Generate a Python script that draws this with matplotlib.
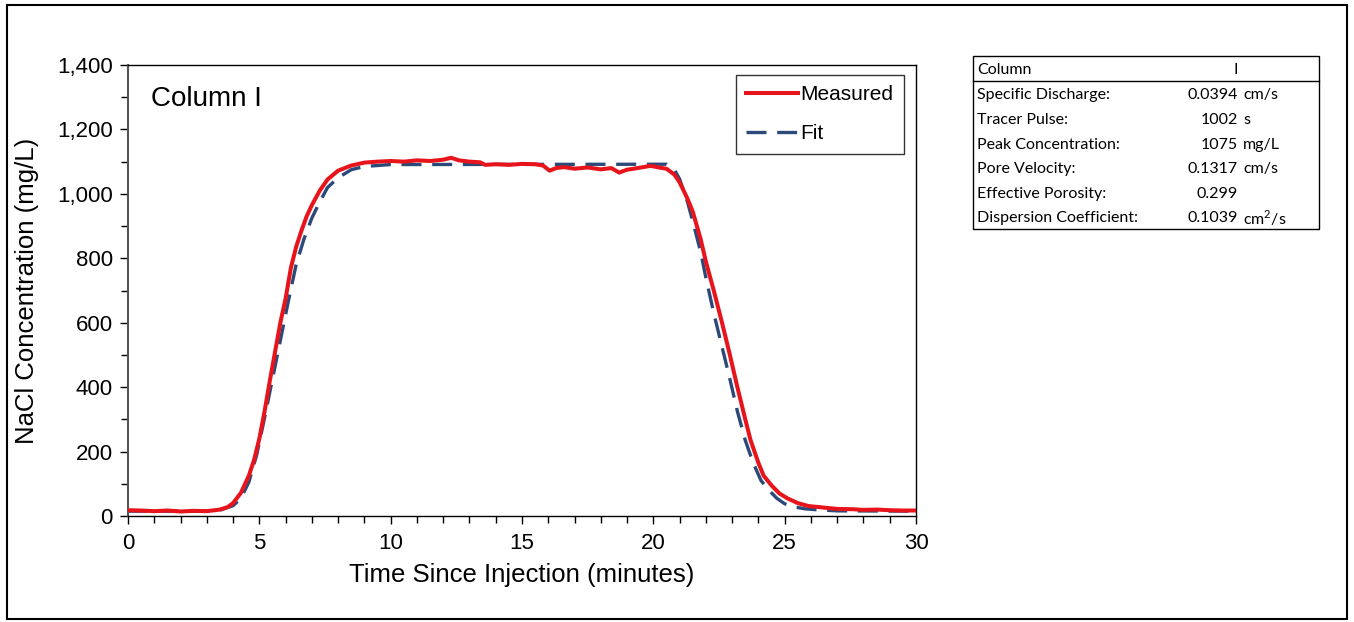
import matplotlib
matplotlib.use("Agg")
import matplotlib.pyplot as plt
from matplotlib.ticker import MultipleLocator, FuncFormatter
from matplotlib.patches import Rectangle
from matplotlib.lines import Line2D

# ---------------- data ----------------
meas_t = [0, 0.5, 1.0, 1.5, 2.0, 2.5, 3.0, 3.5, 3.8, 4.0, 4.3, 4.6, 4.8, 5.0, 5.2, 5.4,
          5.6, 5.8, 6.0, 6.2, 6.4, 6.6, 6.8, 7.0, 7.3, 7.6, 8.0, 8.5, 9.0, 9.5, 10.0,
          10.5, 11.0, 11.5, 12.0, 12.3, 12.6, 13.0, 13.4, 13.6, 14.0, 14.5, 15.0, 15.5,
          15.8, 16.05, 16.3, 16.6, 17.0, 17.5, 18.0, 18.4, 18.7, 19.0, 19.4, 19.9, 20.2,
          20.5, 20.8, 21.0, 21.3, 21.5, 21.8, 22.0, 22.3, 22.6, 22.9, 23.2, 23.5, 23.7,
          24.0, 24.2, 24.5, 24.8, 25.1, 25.5, 25.9, 26.5, 27.0, 27.6, 28.0, 28.5, 29.0,
          29.5, 30.0]
meas_v = [18, 17, 15, 17, 14, 16, 15, 20, 28, 40, 72, 125, 174, 240, 325, 420,
          510, 600, 675, 770, 835, 885, 930, 965, 1010, 1045, 1072, 1088, 1097, 1100, 1102,
          1100, 1104, 1102, 1106, 1112, 1104, 1100, 1098, 1090, 1092, 1090, 1093, 1092,
          1088, 1072, 1080, 1083, 1078, 1082, 1076, 1080, 1066, 1075, 1080, 1087, 1082,
          1078, 1060, 1036, 985, 945, 860, 790, 700, 605, 505, 400, 300, 236,
          165, 125, 95, 70, 55, 40, 31, 26, 22, 21, 19, 20, 18,
          17, 17]

fit_t = [0, 3.0, 3.5, 4.0, 4.3, 4.6, 4.9, 5.2, 5.5, 5.8, 6.1, 6.4, 6.7, 7.0, 7.3, 7.6,
         8.0, 8.5, 9.0, 10.0, 20.5, 20.8, 21.0, 21.3, 21.5, 21.8, 22.0, 22.3, 22.6,
         22.9, 23.2, 23.5, 23.8, 24.1, 24.4, 24.7, 25.0, 25.3, 25.8, 26.3, 27.0, 30.0]
fit_v = [15, 15, 18, 32, 55, 105, 190, 305, 425, 545, 665, 780, 860, 925, 975, 1020,
         1050, 1075, 1085, 1091, 1092, 1075, 1046, 975, 915, 820, 740, 630, 530,
         430, 325, 235, 165, 110, 80, 55, 38, 29, 22, 19, 16, 15]

table_labels = ["Specific Discharge:", "Tracer Pulse:", "Peak Concentration:",
                "Pore Velocity:", "Effective Porosity:", "Dispersion Coefficient:"]
table_values = ["0.0394", "1002", "1075", "0.1317", "0.299", "0.1039"]
table_units = ["cm/s", "s", "mg/L", "cm/s", "", r"cm$^2$/s"]

# ---------------- figure ----------------
W, H = 1354, 622
fig = plt.figure(figsize=(W / 100, H / 100), dpi=100)
plt.rcParams['font.family'] = ['Liberation Sans', 'DejaVu Sans']
plt.rcParams['mathtext.fontset'] = 'custom'
plt.rcParams['mathtext.rm'] = 'Lato'

def fx(px):
    return px / W

def fy(py):
    return 1 - py / H

# outer frame
fig.patches.append(Rectangle((fx(7), fy(619)), fx(1347) - fx(7), fy(5) - fy(619),
                             transform=fig.transFigure, fill=False, ec='black', lw=1.5))

ax = fig.add_axes([fx(128), fy(516), fx(916) - fx(128), fy(65) - fy(516)])

red = '#e8141b'
blue = '#2b4a7a'
ax.plot(fit_t, fit_v, color=blue, lw=2.4, dashes=(6, 3.2), zorder=2, label='Fit')
ax.plot(meas_t, meas_v, color=red, lw=2.9, zorder=3, label='Measured')

ax.set_xlim(0, 30)
ax.set_ylim(0, 1400)
ax.xaxis.set_major_locator(MultipleLocator(5))
ax.xaxis.set_minor_locator(MultipleLocator(1))
ax.yaxis.set_major_locator(MultipleLocator(200))
ax.yaxis.set_minor_locator(MultipleLocator(100))
ax.yaxis.set_major_formatter(FuncFormatter(lambda v, p: f"{int(v):,}"))
ax.tick_params(axis='both', which='major', direction='out', length=6, width=1,
               labelsize=16, colors='black')
ax.tick_params(axis='both', which='minor', direction='out', length=5, width=1)
ax.tick_params(axis='x', pad=6)
ax.tick_params(axis='y', pad=5)
for s in ax.spines.values():
    s.set_color('black')
    s.set_linewidth(1.0)
ax.spines['left'].set_color('#555555')
ax.spines['left'].set_linewidth(1.5)

ax.set_xlabel('Time Since Injection (minutes)', fontsize=18.5, labelpad=7)
ax.set_ylabel('NaCl Concentration (mg/L)', fontsize=18.5, labelpad=13)

ax.text(0.029, 0.925, 'Column I', transform=ax.transAxes, fontsize=20,
        va='center', ha='left')

handles = [Line2D([], [], color=red, lw=2.9),
           Line2D([], [], color=blue, lw=2.4, dashes=(6, 3.2))]
leg = ax.legend(handles, ['Measured', 'Fit'], loc='upper right',
                bbox_to_anchor=(0.9845, 0.978), fontsize=15, frameon=True,
                fancybox=False, edgecolor='black', handlelength=2.5,
                handletextpad=0.1, borderpad=0.5, labelspacing=0.95,
                borderaxespad=0)
leg.get_frame().set_linewidth(1.0)

# ---------------- table ----------------
tfont = dict(family=['Lato', 'DejaVu Sans'], fontsize=11.5, color='black')
fig.patches.append(Rectangle((fx(973), fy(229)), fx(1319) - fx(973), fy(56) - fy(229),
                             transform=fig.transFigure, fill=False, ec='black', lw=1.0))
fig.lines.append(Line2D([fx(973), fx(1319)], [fy(81), fy(81)],
                        transform=fig.transFigure, color='black', lw=1.0))
fig.text(fx(977), fy(70), 'Column', va='center', ha='left', **tfont)
fig.text(fx(1236), fy(70), 'I', va='center', ha='center', **tfont)
row_y = [95, 120, 145, 169, 194, 218]
for lbl, val, unit, yy in zip(table_labels, table_values, table_units, row_y):
    fig.text(fx(977), fy(yy), lbl, va='center', ha='left', **tfont)
    fig.text(fx(1238), fy(yy), val, va='center', ha='right', **tfont)
    if unit:
        fig.text(fx(1243), fy(yy), unit, va='center', ha='left', **tfont)

fig.savefig('out.png', dpi=100)
